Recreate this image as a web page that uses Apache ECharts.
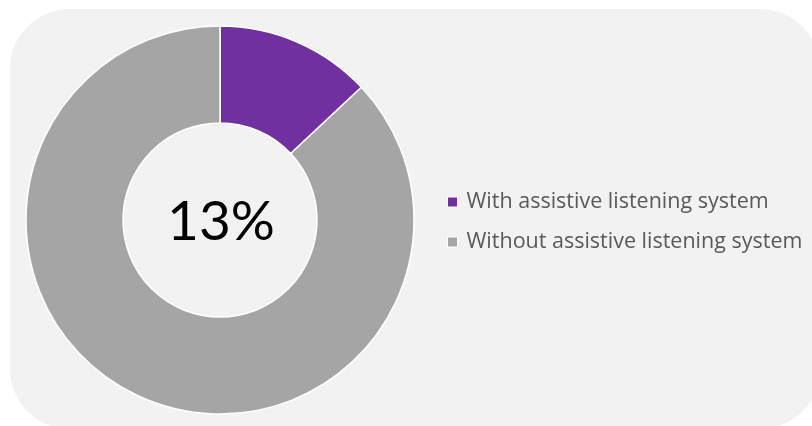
<!DOCTYPE html>
<html>
<head>
<meta charset="utf-8">
<script src="https://cdn.jsdelivr.net/npm/echarts@6/dist/echarts.min.js"></script>
<style>
  html, body { margin: 0; padding: 0; background: #ffffff; }
  #chart { width: 812px; height: 426px; }
</style>
</head>
<body>
<div id="chart"></div>
<script>
// Share of venues with an assistive listening system
const categories = ['With assistive listening system', 'Without assistive listening system'];
const shares = [13, 87];
const colors = ['#7030a0', '#a5a5a5'];

const total = shares.reduce((a, b) => a + b, 0);
const centerLabel = Math.round(shares[0] / total * 100) + '%';

const chart = echarts.init(document.getElementById('chart'), null, { renderer: 'canvas' });

chart.setOption({
  animation: false,
  backgroundColor: '#ffffff',
  color: colors,
  graphic: [
    {
      type: 'rect',
      z: -10,
      shape: { x: 10, y: 9, width: 810, height: 420, r: 60 },
      style: { fill: '#f2f2f2' },
      silent: true
    },
    {
      type: 'text',
      z: 10,
      x: 221,
      y: 222,
      style: {
        text: centerLabel,
        fontFamily: 'Lato, "Open Sans", sans-serif',
        fontSize: 55,
        fill: '#000000',
        align: 'center',
        verticalAlign: 'middle'
      }
    }
  ],
  legend: {
    orient: 'vertical',
    left: 442,
    top: 186,
    itemWidth: 10,
    itemHeight: 10,
    itemGap: 18,
    icon: 'rect',
    itemStyle: { borderColor: '#ffffff', borderWidth: 1 },
    textStyle: {
      color: '#595959',
      fontSize: 21.5,
      fontFamily: '"Open Sans", sans-serif',
      padding: [0, 0, 0, 4]
    },
    data: categories
  },
  series: [
    {
      type: 'pie',
      center: [220, 220],
      radius: [97, 194],
      startAngle: 90,
      clockwise: true,
      label: { show: false },
      labelLine: { show: false },
      emphasis: { disabled: true },
      itemStyle: { borderColor: '#ffffff', borderWidth: 1.5 },
      data: categories.map((name, i) => ({ name: name, value: shares[i] }))
    }
  ]
});
</script>
</body>
</html>
